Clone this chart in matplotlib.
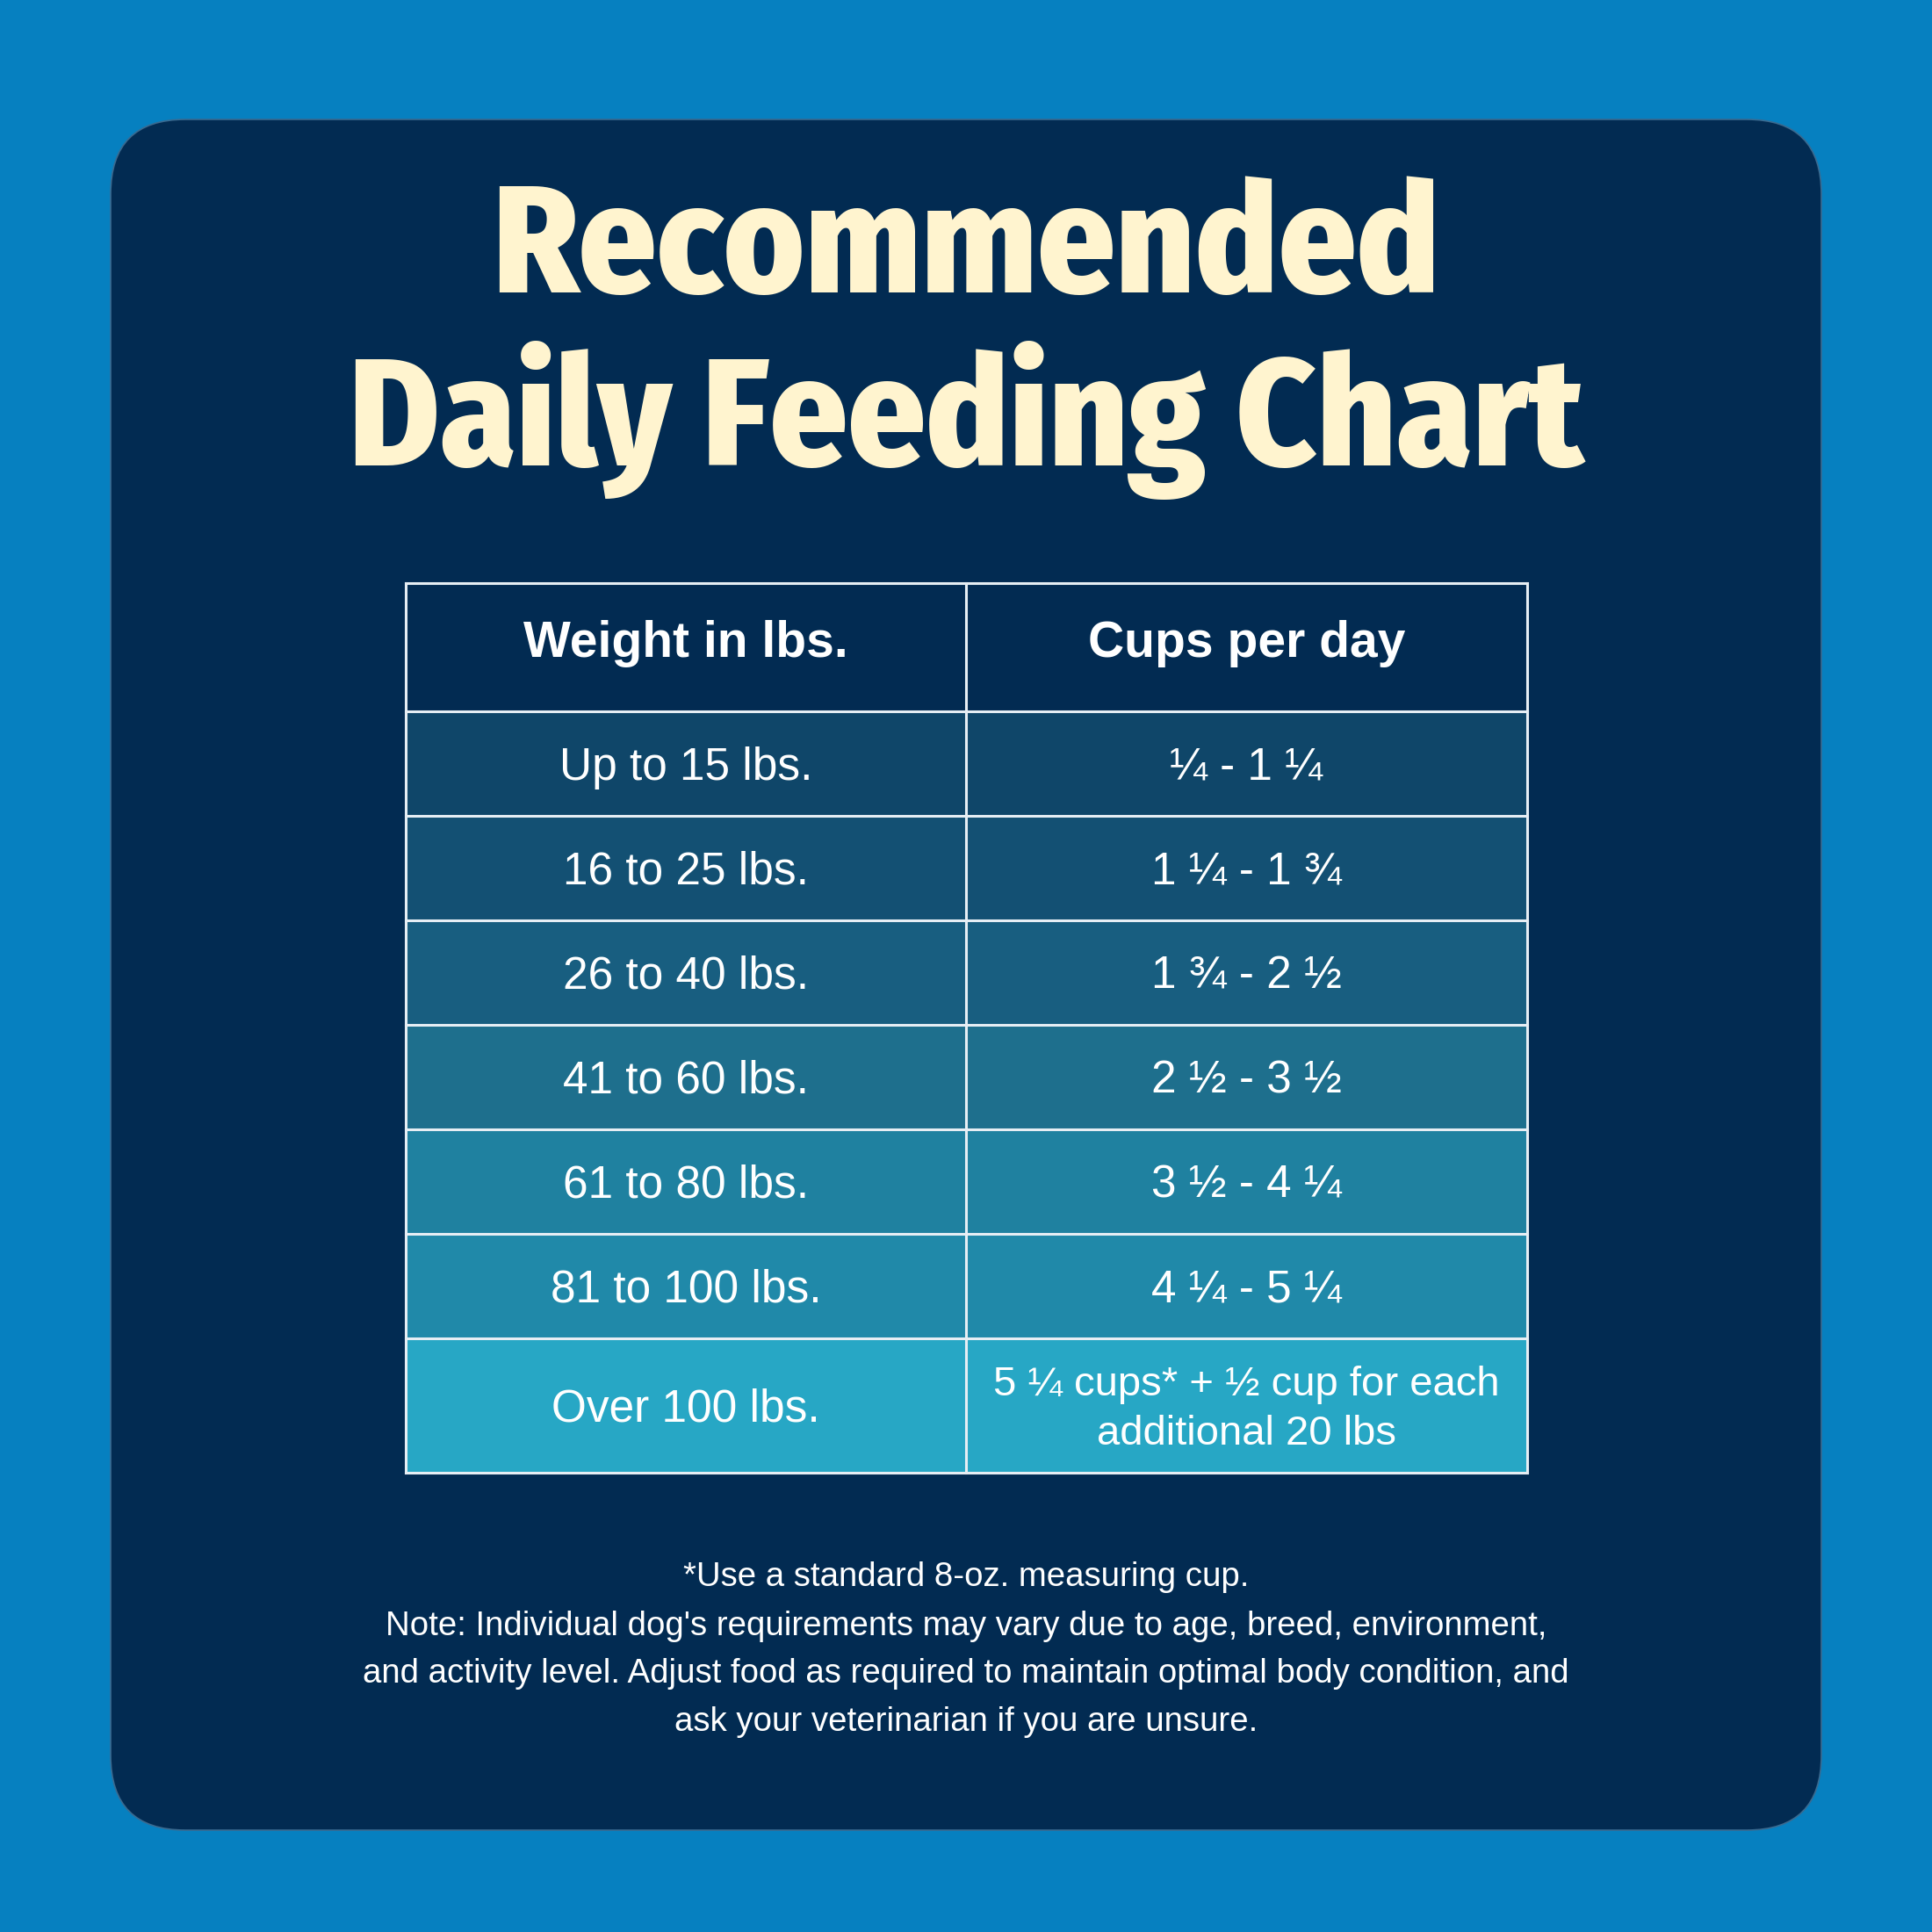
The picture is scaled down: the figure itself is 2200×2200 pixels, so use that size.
import matplotlib
matplotlib.use("Agg")
import matplotlib.pyplot as plt
from matplotlib import font_manager
from matplotlib.patches import FancyBboxPatch, Rectangle

# table content
header = ["Weight in lbs.", "Cups per day"]
weights = ["Up to 15 lbs.", "16 to 25 lbs.", "26 to 40 lbs.", "41 to 60 lbs.",
           "61 to 80 lbs.", "81 to 100 lbs.", "Over 100 lbs."]
cups = ["\u00bc - 1 \u00bc", "1 \u00bc - 1 \u00be", "1 \u00be - 2 \u00bd", "2 \u00bd - 3 \u00bd",
        "3 \u00bd - 4 \u00bc", "4 \u00bc - 5 \u00bc",
        "5 \u00bc cups* + \u00bd cup for each\nadditional 20 lbs"]
title_lines = ["Recommended", "Daily Feeding Chart"]
notes = ["*Use a standard 8-oz. measuring cup.",
         "Note: Individual dog's requirements may vary due to age, breed, environment,",
         "and activity level. Adjust food as required to maintain optimal body condition, and",
         "ask your veterinarian if you are unsure."]

# styling
outer_bg = "#0680C0"
panel_bg = "#022B52"
cream = "#FFF4CF"
line_col = "#E6EEF4"
row_colors = ["#0F4669", "#135073", "#185E80", "#1E6F8D", "#1F81A0", "#2089A9", "#27A7C5"]

installed = {f.name for f in font_manager.fontManager.ttflist}
title_candidates = ["Fira Sans Condensed", "Fira Sans Extra Condensed", "Roboto Condensed",
                    "Open Sans Condensed", "Liberation Sans Narrow", "DejaVu Sans"]
title_font = [next(f for f in title_candidates if f in installed), "DejaVu Sans"]
body_font = ["Liberation Sans", "DejaVu Sans"]

W = H = 2200
DPI = 200
fig = plt.figure(figsize=(W / DPI, H / DPI), dpi=DPI, facecolor=outer_bg)
ax = fig.add_axes([0, 0, 1, 1])
ax.set_xlim(0, W)
ax.set_ylim(H, 0)
ax.axis("off")

def px(pt):
    return pt * DPI / 72.0

# rounded dark panel
ax.add_patch(FancyBboxPatch((126 + 85, 136 + 85), 1948 - 170, 1948 - 170,
                            boxstyle="round,pad=85", fc=panel_bg, ec="#3a6a90", lw=0.6))

# title, sized so the second line spans the same width as in the original
renderer = fig.canvas.get_renderer()
titles = []
for txt, base in zip(title_lines, [333, 530]):
    titles.append(ax.text(1100, base, txt, ha="center", va="baseline", fontsize=64,
                          fontweight=800, family=title_font, color=cream))
w2 = titles[1].get_window_extent(renderer).width
scale = 1406 / w2
for t in titles:
    t.set_fontsize(64 * scale)

# table geometry
x0, xm, x1 = 462, 1100, 1739
edges = [664, 810, 929, 1048, 1167, 1286, 1405, 1524, 1677]

def cell_text(cx, top, bot, s, size, bold=False, gap=56, shift=0):
    lines = s.split("\n")
    cap = 0.716 * px(size)
    mid = (top + bot) / 2 + shift
    first = mid + cap / 2 - gap * (len(lines) - 1) / 2
    for i, ln in enumerate(lines):
        ax.text(cx, first + i * gap, ln, ha="center", va="baseline", fontsize=size,
                fontweight="bold" if bold else "normal", family=body_font, color="white")

ax.add_patch(Rectangle((x0, edges[0]), x1 - x0, edges[1] - edges[0], fc=panel_bg, ec="none"))
for i, c in enumerate(row_colors):
    ax.add_patch(Rectangle((x0, edges[i + 1]), x1 - x0, edges[i + 2] - edges[i + 1], fc=c, ec="none"))

cell_text((x0 + xm) / 2, edges[0], edges[1], header[0], 20.5, bold=True, shift=-9)
cell_text((xm + x1) / 2, edges[0], edges[1], header[1], 20.5, bold=True, shift=-9)
for i, (w, c) in enumerate(zip(weights, cups)):
    csize = 17 if "\n" in c else 18.5
    cell_text((x0 + xm) / 2, edges[i + 1], edges[i + 2], w, 18.5)
    cell_text((xm + x1) / 2, edges[i + 1], edges[i + 2], c, csize)

# grid lines
for y in edges:
    ax.plot([x0, x1], [y, y], color=line_col, lw=1.1, solid_capstyle="projecting")
for x in (x0, xm, x1):
    ax.plot([x, x], [edges[0], edges[-1]], color=line_col, lw=1.1, solid_capstyle="projecting")

# footnotes
for txt, base in zip(notes, [1806, 1862, 1916, 1971]):
    ax.text(1100, base, txt, ha="center", va="baseline", fontsize=13.8,
            family=body_font, color="white")

fig.savefig("out.png", dpi=DPI, facecolor=outer_bg)
